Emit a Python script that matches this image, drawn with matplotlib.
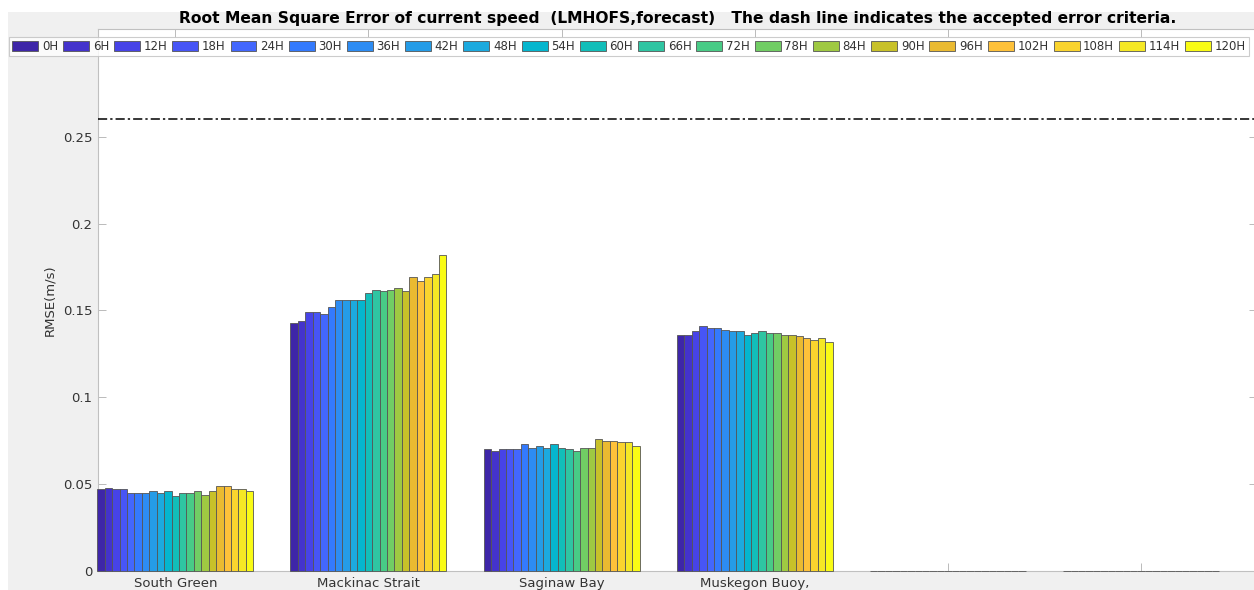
import numpy as np
import matplotlib.pyplot as plt
from matplotlib.patches import Rectangle

stations = ["South Green", "Mackinac Strait", "Saginaw Bay", "Muskegon Buoy,", "", ""]
hours = ["0H", "6H", "12H", "18H", "24H", "30H", "36H", "42H", "48H", "54H", "60H",
         "66H", "72H", "78H", "84H", "90H", "96H", "102H", "108H", "114H", "120H"]

# RMSE per station, one value per forecast hour
south_green = [0.047, 0.048, 0.047, 0.047, 0.045, 0.045, 0.045, 0.046, 0.045, 0.046, 0.043,
               0.045, 0.045, 0.046, 0.044, 0.046, 0.049, 0.049, 0.047, 0.047, 0.046]
mackinac = [0.143, 0.144, 0.149, 0.149, 0.148, 0.152, 0.156, 0.156, 0.156, 0.156, 0.160,
            0.162, 0.161, 0.162, 0.163, 0.161, 0.169, 0.167, 0.169, 0.171, 0.182]
saginaw = [0.070, 0.069, 0.070, 0.070, 0.070, 0.073, 0.071, 0.072, 0.071, 0.073, 0.071,
           0.070, 0.069, 0.071, 0.071, 0.076, 0.075, 0.075, 0.074, 0.074, 0.072]
muskegon = [0.136, 0.136, 0.138, 0.141, 0.140, 0.140, 0.139, 0.138, 0.138, 0.136, 0.137,
            0.138, 0.137, 0.137, 0.136, 0.136, 0.135, 0.134, 0.133, 0.134, 0.132]
empty = [0.0] * 21
criteria = 0.26

rmse = np.array([south_green, mackinac, saginaw, muskegon, empty, empty])

# parula colormap (64 entries), sampled at 21 points
parula64 = np.array([
    [0.2422, 0.1504, 0.6603], [0.2504, 0.1650, 0.7076], [0.2578, 0.1818, 0.7511], [0.2647, 0.1978, 0.7952],
    [0.2706, 0.2147, 0.8364], [0.2751, 0.2342, 0.8710], [0.2783, 0.2559, 0.8991], [0.2803, 0.2782, 0.9221],
    [0.2813, 0.3006, 0.9414], [0.2810, 0.3228, 0.9579], [0.2795, 0.3447, 0.9717], [0.2760, 0.3667, 0.9829],
    [0.2699, 0.3892, 0.9906], [0.2602, 0.4123, 0.9952], [0.2440, 0.4358, 0.9988], [0.2206, 0.4603, 0.9973],
    [0.1963, 0.4847, 0.9892], [0.1834, 0.5074, 0.9798], [0.1786, 0.5289, 0.9682], [0.1764, 0.5499, 0.9520],
    [0.1687, 0.5703, 0.9359], [0.1540, 0.5902, 0.9218], [0.1460, 0.6091, 0.9079], [0.1380, 0.6276, 0.8973],
    [0.1248, 0.6459, 0.8883], [0.1113, 0.6635, 0.8763], [0.0952, 0.6798, 0.8598], [0.0689, 0.6948, 0.8394],
    [0.0297, 0.7082, 0.8163], [0.0036, 0.7203, 0.7917], [0.0067, 0.7312, 0.7660], [0.0433, 0.7411, 0.7394],
    [0.0964, 0.7500, 0.7120], [0.1408, 0.7584, 0.6842], [0.1717, 0.7670, 0.6554], [0.1938, 0.7758, 0.6251],
    [0.2161, 0.7843, 0.5923], [0.2470, 0.7918, 0.5567], [0.2906, 0.7973, 0.5188], [0.3406, 0.8008, 0.4789],
    [0.3909, 0.8029, 0.4354], [0.4456, 0.8024, 0.3909], [0.5044, 0.7993, 0.3480], [0.5616, 0.7942, 0.3045],
    [0.6174, 0.7876, 0.2612], [0.6720, 0.7793, 0.2227], [0.7242, 0.7698, 0.1910], [0.7738, 0.7598, 0.1646],
    [0.8203, 0.7498, 0.1535], [0.8634, 0.7406, 0.1596], [0.9035, 0.7330, 0.1774], [0.9393, 0.7288, 0.2100],
    [0.9728, 0.7298, 0.2394], [0.9956, 0.7434, 0.2371], [0.9970, 0.7659, 0.2199], [0.9952, 0.7893, 0.2028],
    [0.9892, 0.8136, 0.1885], [0.9786, 0.8386, 0.1766], [0.9676, 0.8639, 0.1643], [0.9610, 0.8890, 0.1537],
    [0.9597, 0.9135, 0.1423], [0.9628, 0.9373, 0.1265], [0.9691, 0.9606, 0.1064], [0.9769, 0.9839, 0.0805]])
pos = np.linspace(0, 63, len(hours))
colors = np.column_stack([np.interp(pos, np.arange(64), parula64[:, k]) for k in range(3)])

fig = plt.figure(figsize=(12.54, 5.90), dpi=100, facecolor="#f0f0f0")
# white margins of the screenshot
fig.add_artist(Rectangle((0, 1 - 12 / 590), 1, 12 / 590, transform=fig.transFigure,
                         facecolor="white", edgecolor="none", zorder=0))
fig.add_artist(Rectangle((0, 0), 8 / 1254, 1, transform=fig.transFigure,
                         facecolor="white", edgecolor="none", zorder=0))

ax = fig.add_axes([98 / 1254, 19 / 590, 1159 / 1254, 542 / 590])
ax.set_facecolor("white")

x = np.arange(1, len(stations) + 1)
group_w = 0.807
w = group_w / len(hours)
for j, h in enumerate(hours):
    offs = (j - (len(hours) - 1) / 2) * w
    ax.bar(x + offs, rmse[:, j], width=w, color=colors[j], edgecolor="#555555",
           linewidth=0.6, label=h, zorder=3, clip_on=False)

ax.axhline(criteria, color="black", linestyle=(0, (6, 2, 1.5, 2)), linewidth=1.1, zorder=3)

ax.set_xlim(0.6, 6.6)
ax.set_ylim(0, 0.312)
ax.set_xticks(x)
ax.set_xticklabels(stations, fontsize=9.5, color="#333333")
ax.set_yticks([0, 0.05, 0.1, 0.15, 0.2, 0.25])
ax.set_yticklabels(["0", "0.05", "0.1", "0.15", "0.2", "0.25"], fontsize=9.5, color="#333333")
ax.tick_params(direction="in", top=True, right=True, length=6, width=0.6, color="#b0b0b0", pad=4)
for s in ax.spines.values():
    s.set_color("#c0c0c0")
    s.set_linewidth(0.8)
ax.set_ylabel("RMSE(m/s)", fontsize=9.5, color="#333333", labelpad=5)

fig.text(678 / 1254, 1 - 18 / 590, "Root Mean Square Error of current speed  (LMHOFS,forecast)   "
         "The dash line indicates the accepted error criteria.",
         ha="center", va="center", fontsize=11.2, fontweight="bold")

leg = fig.legend(loc="upper center", bbox_to_anchor=(629 / 1254, 1 - 37 / 590), ncol=len(hours),
                 fontsize=8.5, frameon=True, fancybox=False, handlelength=2.2, handleheight=0.9,
                 handletextpad=0.3, columnspacing=0.43, borderpad=0.25, borderaxespad=0)
leg.get_frame().set_edgecolor("#c0c0c0")
leg.get_frame().set_linewidth(0.8)
for t in leg.get_texts():
    t.set_color("#333333")

plt.savefig("out.png", dpi=100, facecolor=fig.get_facecolor())
